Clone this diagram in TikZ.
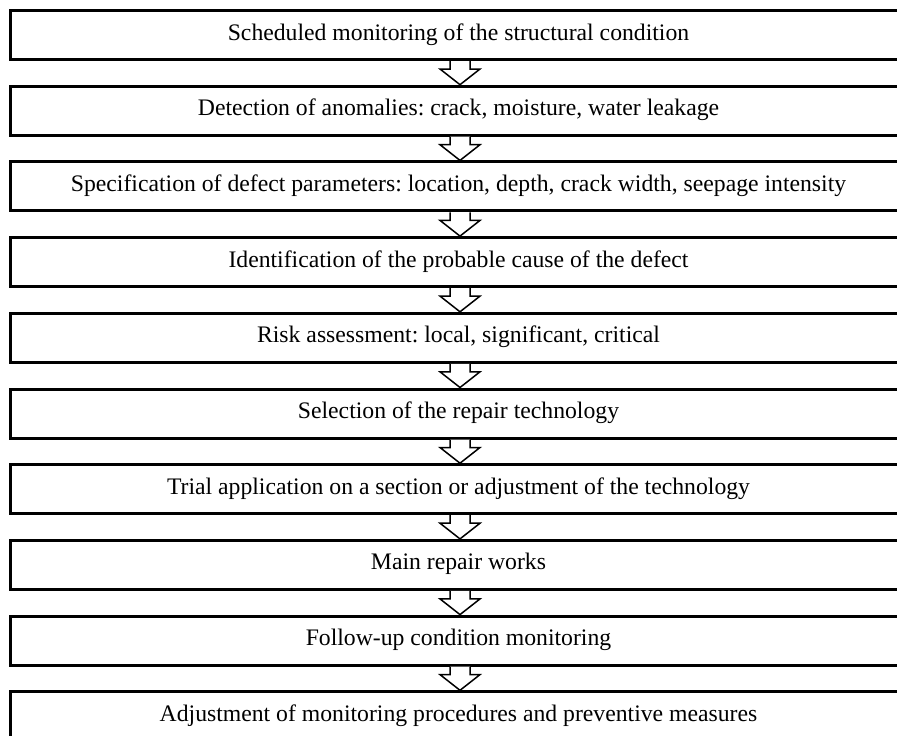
\documentclass[tikz,border=0pt]{standalone}
\usepackage{fontspec}
\setmainfont{Liberation Serif}
\usetikzlibrary{calc}
\frenchspacing
\begin{document}
\begin{tikzpicture}[x=1pt,y=-1pt,
  stepbox/.style={draw=black,line width=3pt,fill=white,inner sep=0pt,
    minimum width=896pt,text height=29.5pt,text depth=19.5pt,
    font=\fontsize{23.7}{28}\selectfont},
  blockarrow/.style={draw=black,line width=1.5pt,fill=white,line join=miter}]
\useasboundingbox (0,0) rectangle (897,736);
\clip (0,0) rectangle (897,736);
\def\ystep{75.7}
\foreach \i/\t in {0/Scheduled monitoring of the structural condition,
  1/{Detection of anomalies: crack, moisture, water leakage},
  2/{Specification of defect parameters: location, depth, crack width, seepage intensity},
  3/Identification of the probable cause of the defect,
  4/{Risk assessment: local, significant, critical},
  5/Selection of the repair technology,
  6/Trial application on a section or adjustment of the technology,
  7/Main repair works,
  8/Follow-up condition monitoring,
  9/Adjustment of monitoring procedures and preventive measures}{
  \node[stepbox,anchor=north] (b\i) at (458.5,{9+\i*\ystep}) {\frenchspacing\t};
}
\foreach \i [evaluate=\i as \j using int(\i+1)] in {0,...,8}{
  \draw[blockarrow] ($(b\i.south)+(-8.5,0)$) -- ++(0,8) -- ++(-10,0)
    -- ($(b\j.north)+(1.5,0)$) -- ($(b\i.south)+(21.5,8)$) -- ++(-10,0)
    -- ($(b\i.south)+(11.5,0)$);
}
\end{tikzpicture}
\end{document}
